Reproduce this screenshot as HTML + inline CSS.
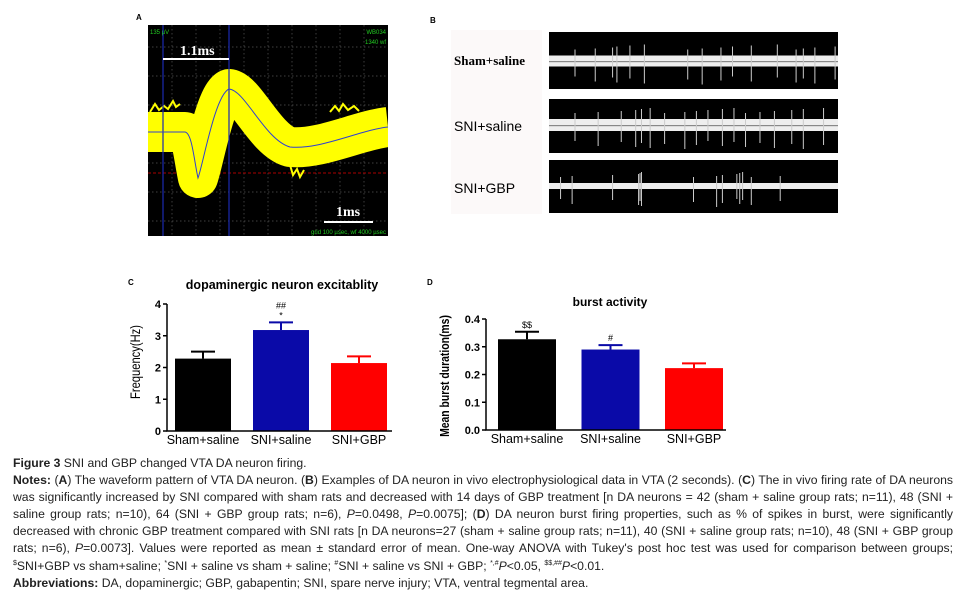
<!DOCTYPE html>
<html><head><meta charset="utf-8"><style>
html,body{margin:0;padding:0;background:#fff;width:960px;height:602px;overflow:hidden;position:relative;font-family:"Liberation Sans",sans-serif}
svg{position:absolute;left:0;top:0}
#cap{position:absolute;left:13px;top:455px;width:940px;font-size:12.2px;line-height:17.1px;color:#222;text-align:justify;font-family:"Liberation Sans",sans-serif}
#cap p{margin:0}
#cap sup{font-size:7px;line-height:0;vertical-align:baseline;position:relative;top:-5px}
b{color:#222}
</style></head><body>
<svg id="fig" width="960" height="602">
<defs><clipPath id="clipA"><rect x="148" y="25" width="240" height="211"/></clipPath></defs>
<g id="panelA">
<text x="136" y="20" font-size="8" font-weight="bold">A</text>
<rect x="148" y="25" width="240" height="211" fill="#000"/>
<g clip-path="url(#clipA)">
<g id="gridA" stroke="#555" stroke-width="0.7" stroke-dasharray="1.5,2.5"></g>
<line x1="148" y1="173" x2="388" y2="173" stroke="#a00" stroke-dasharray="3,2" stroke-width="1"/>
<path d="M148,132 L185,132 C192,133 194,160 198,178 C203,165 215,95 229,89 C245,90 265,140 290,147 C320,150 360,130 388,127" fill="none" stroke="#ffff00" stroke-width="40" stroke-linejoin="round"/>
<path d="M150,112 l5,-8 4,6 5,-4 4,3 5,-8 3,6 4,-3 M250,110 l4,-6 3,5 5,-4 4,6 M330,112 l5,-6 4,5 4,-7 5,6 6,-4 5,5 M290,165 l3,10 4,-6 3,8 4,-7" fill="none" stroke="#ffff00" stroke-width="2"/>
</g>
<line x1="163" y1="25" x2="163" y2="236" stroke="#1a2ab0" stroke-width="1.2"/>
<line x1="229" y1="25" x2="229" y2="236" stroke="#1a2ab0" stroke-width="1.2"/>
<path d="M148,132 L185,132 C192,133 194,160 198,178 C203,165 215,95 229,89 C245,90 265,140 290,147 C320,150 360,130 388,127" fill="none" stroke="#3040d0" stroke-width="1"/>
<line x1="163" y1="59" x2="229" y2="59" stroke="#fff" stroke-width="2"/>
<text x="180" y="55" fill="#fff" font-family="Liberation Serif" font-weight="bold" font-size="14">1.1ms</text>
<line x1="324" y1="222" x2="373" y2="222" stroke="#fff" stroke-width="2"/>
<text x="336" y="216" fill="#fff" font-family="Liberation Serif" font-weight="bold" font-size="14">1ms</text>
<text x="150" y="34" fill="#2c2" font-size="6">135 µV</text>
<text x="386" y="34" fill="#2c2" font-size="6" text-anchor="end">WB034</text>
<text x="386" y="44" fill="#2c2" font-size="6" text-anchor="end">1340 wf</text>
<text x="386" y="234" fill="#2c2" font-size="6" text-anchor="end">grid 100 µsec, wf 4000 µsec</text>
</g>
<g id="panelB">
<text x="430" y="23" font-size="8" font-weight="bold">B</text>
<rect x="451" y="30" width="91" height="184" fill="#fcf9f9"/>
<text x="454" y="65" font-family="Liberation Serif" font-weight="bold" font-size="13">Sham+saline</text>
<text x="454" y="131" font-size="14">SNI+saline</text>
<text x="454" y="193" font-size="14">SNI+GBP</text>
<g id="traces"></g>
</g>
<g id="panelC"></g>
<g id="panelD"></g>
</svg>
<div id="cap">
<p><b>Figure 3</b> SNI and GBP changed VTA DA neuron firing.</p>
<p><b>Notes:</b> (<b>A</b>) The waveform pattern of VTA DA neuron. (<b>B</b>) Examples of DA neuron in vivo electrophysiological data in VTA (2 seconds). (<b>C</b>) The in vivo firing rate of DA neurons was significantly increased by SNI compared with sham rats and decreased with 14 days of GBP treatment [n DA neurons = 42 (sham + saline group rats; n=11), 48 (SNI + saline group rats; n=10), 64 (SNI + GBP group rats; n=6), <i>P</i>=0.0498, <i>P</i>=0.0075]; (<b>D</b>) DA neuron burst firing properties, such as % of spikes in burst, were significantly decreased with chronic GBP treatment compared with SNI rats [n DA neurons=27 (sham + saline group rats; n=11), 40 (SNI + saline group rats; n=10), 48 (SNI + GBP group rats; n=6), <i>P</i>=0.0073]. Values were reported as mean ± standard error of mean. One-way ANOVA with Tukey's post hoc test was used for comparison between groups; <sup>$</sup>SNI+GBP vs sham+saline; <sup>*</sup>SNI + saline vs sham + saline; <sup>#</sup>SNI + saline vs SNI + GBP; <sup>*,#</sup><i>P</i>&lt;0.05, <sup>$$,##</sup><i>P</i>&lt;0.01.</p>
<p><b>Abbreviations:</b> DA, dopaminergic; GBP, gabapentin; SNI, spare nerve injury; VTA, ventral tegmental area.</p>
</div>
<script>
// Panel C data
const catsC = ["Sham+saline","SNI+saline","SNI+GBP"];
const valsC = [2.28, 3.18, 2.14];
const errC = [0.22, 0.24, 0.21];
const sigC = ["", "##\n*", ""];
const ticksC = [0,1,2,3,4];
// Panel D data
const catsD = ["Sham+saline","SNI+saline","SNI+GBP"];
const valsD = [0.327, 0.29, 0.223];
const errD = [0.027, 0.016, 0.017];
const sigD = ["$$", "#", ""];
const ticksD = [0,0.1,0.2,0.3,0.4];
const colors = ["#000","#0a0aa8","#ff0000"];
// spike times for traces (fraction of 2 s window)
const spikes1 = [0.09,0.16,0.22,0.235,0.28,0.33,0.48,0.53,0.595,0.635,0.7,0.79,0.855,0.88,0.92,0.99];
const spikes2 = [0.09,0.17,0.25,0.3,0.32,0.35,0.4,0.47,0.51,0.55,0.6,0.64,0.68,0.73,0.78,0.84,0.88,0.95];
const spikes3 = [0.04,0.08,0.22,0.31,0.315,0.32,0.5,0.58,0.6,0.65,0.66,0.67,0.7,0.8];
const NS="http://www.w3.org/2000/svg";
function mk(tag,attrs,parent,txt){const e=document.createElementNS(NS,tag);for(const k in attrs)e.setAttribute(k,attrs[k]);if(txt!==undefined)e.textContent=txt;parent.appendChild(e);return e;}

const gA=document.getElementById('gridA');
for(let x=172;x<388;x+=24){const l=mk('line',{x1:x,y1:25,x2:x,y2:236},gA);}
for(let y=47;y<236;y+=29){const l=mk('line',{x1:148,y1:y,x2:388,y2:y},gA);}

const tg=document.getElementById('traces');
const rows=[{y:32,h:57,c:61,s:spikes1,bw:11},{y:99,h:54,c:125,s:spikes2,bw:12},{y:160,h:53,c:186,s:spikes3,bw:6}];
rows.forEach((r,i)=>{
  const bg=mk('rect',{x:549,y:r.y,width:289,height:r.h,fill:'#000'},tg);
  
  const band=mk('rect',{x:549,y:r.c-r.bw/2,width:289,height:r.bw,fill:'#eee'},tg);
  
  const gap=mk('rect',{x:549,y:r.c,width:289,height:r.bw>8?1.2:0,fill:'#888'},tg);
  
  r.s.forEach((t,j)=>{
    const x=549+t*289;
    const up=6+(j*7)%6, dn=10+(j*5)%9;
    const sp=mk('line',{x1:x,y1:r.c-r.bw/2-up,x2:x,y2:r.c+r.bw/2+dn,stroke:'#ccc','stroke-width':1},tg);
    
  });
});

function bar(gid,cfg){
  const g=document.getElementById(gid);
  const {x0,x1,yTop,yBot,max,ticks,cats,vals,errs,sig,title,titleX,titleY,ylab,ylabX,label,labelX,labelY,barL,barW,step,fmt}=cfg;
  const Y=v=>yBot-(v/max)*(yBot-yTop);
  const X=i=>barL+i*step;
  let t=mk('text',{x:labelX,y:labelY,'font-size':8,'font-weight':'bold'},g,label);
  
  t=mk('text',{x:titleX,y:titleY,'font-size':cfg.titleSize,'font-weight':'bold','text-anchor':'middle'},g,title);
  
  cats.forEach((c,i)=>{
    const r=mk('rect',{x:X(i),y:Y(vals[i]),width:barW,height:yBot-Y(vals[i]),fill:colors[i]},g);
    
    const cx=X(i)+barW/2, ye=Y(vals[i]+errs[i]);
    const e=mk('path',{d:`M${cx},${Y(vals[i])}V${ye}M${cx-12},${ye}H${cx+12}`,stroke:colors[i],'stroke-width':2,fill:'none'},g);
    
    const lt=mk('text',{x:cx,y:yBot+13,'font-size':12.5,'text-anchor':'middle'},g,c);
    
    if(sig[i]){sig[i].split('\n').reverse().forEach((s,k)=>{
      const st=mk('text',{x:cx,y:ye-4-k*10,'font-size':9,'text-anchor':'middle'},g,s);
      });}
  });
  let a=mk('path',{d:`M${x0},${yTop}V${yBot}H${x1}`,stroke:'#000','stroke-width':1.5,fill:'none'},g);
  
  ticks.forEach(v=>{
    const tk=mk('line',{x1:x0-4,y1:Y(v),x2:x0,y2:Y(v),stroke:'#000','stroke-width':1.5},g);
    
    const tl=mk('text',{x:x0-6,y:Y(v)+4,'font-size':11,'font-weight':'bold','text-anchor':'end'},g,fmt(v));
    
  });
  const yl=mk('text',{x:0,y:0,'font-size':cfg.ylabSize,'font-weight':cfg.ylabW,'text-anchor':'middle',transform:`translate(${ylabX},${cfg.ylabY}) rotate(-90) scale(0.8,1)`},g,ylab);
  
}
bar('panelC',{x0:167,x1:392,yTop:304,yBot:431,max:4,ticks:ticksC,cats:catsC,vals:valsC,errs:errC,sig:sigC,title:'dopaminergic neuron excitablity',titleX:282,titleY:289,titleSize:12.5,ylab:'Frequency(Hz)',ylabX:140,ylabY:362,ylabSize:14,ylabW:'normal',label:'C',labelX:128,labelY:285,barL:175,barW:56,step:78,fmt:v=>String(v)});
bar('panelD',{x0:486,x1:726,yTop:319,yBot:430,max:0.4,ticks:ticksD,cats:catsD,vals:valsD,errs:errD,sig:sigD,title:'burst activity',titleX:610,titleY:306,titleSize:12,ylab:'Mean burst duration(ms)',ylabX:449,ylabY:376,ylabSize:13,ylabW:'bold',label:'D',labelX:427,labelY:285,barL:498,barW:58,step:83.5,fmt:v=>v.toFixed(1)});
</script>
</body></html>
